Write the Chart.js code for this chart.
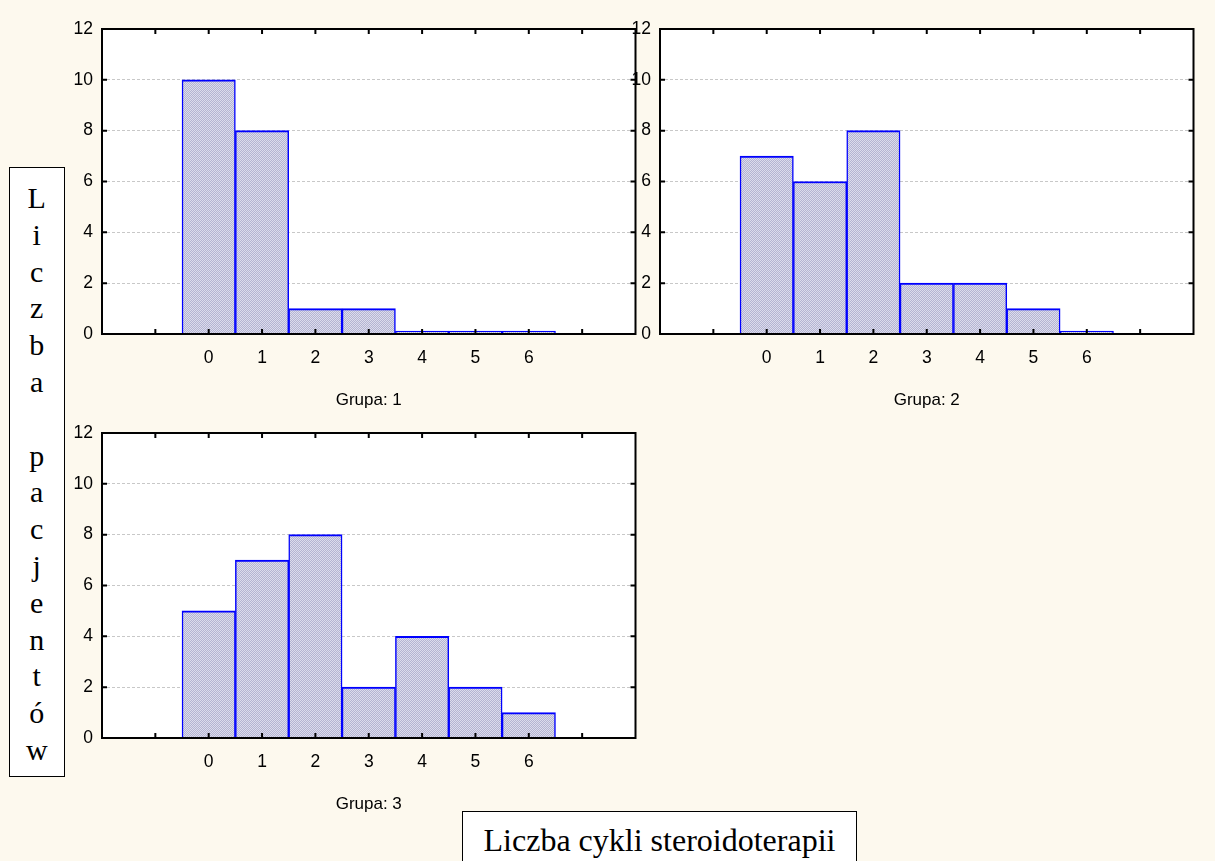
<!DOCTYPE html>
<html>
<head>
<meta charset="utf-8">
<script src="https://cdn.jsdelivr.net/npm/chart.js@4.4.1/dist/chart.umd.min.js"></script>
<style>
html,body{margin:0;padding:0;background:#fdf9ee;width:1215px;height:861px;overflow:hidden;}
canvas.c{position:absolute;}
#ylab{position:absolute;left:9px;top:167px;width:55.5px;height:610px;box-sizing:border-box;border:1.5px solid #000;background:#fff;
  font-family:"Liberation Serif","Times New Roman",serif;font-size:30px;line-height:36.8px;text-align:center;padding-top:12px;color:#000;z-index:5;}
#xlab{position:absolute;left:461.7px;top:810.7px;width:395.6px;height:70px;box-sizing:border-box;border:1.5px solid #000;border-bottom:none;background:#fff;
  font-family:"Liberation Serif","Times New Roman",serif;font-size:32px;line-height:40px;text-align:center;padding-top:8px;color:#000;z-index:5;white-space:nowrap;}
</style>
</head>
<body>
<canvas id="c1" class="c" width="595" height="405" style="left:50px;top:15px;"></canvas>
<canvas id="c2" class="c" width="595" height="405" style="left:608px;top:15px;"></canvas>
<canvas id="c3" class="c" width="595" height="405" style="left:50px;top:419px;"></canvas>
<div id="ylab"></div>
<div id="xlab"></div>
<script>
// ---- data ----
const xCategories = [0, 1, 2, 3, 4, 5, 6];
const group1 = [10, 8, 1, 1, 0, 0, 0];
const group2 = [7, 6, 8, 2, 2, 1, 0];
const group3 = [5, 7, 8, 2, 4, 2, 1];
const groupTitles = ['Grupa: 1', 'Grupa: 2', 'Grupa: 3'];
const yTickValues = [0, 2, 4, 6, 8, 10, 12];
const xMin = -2, xMax = 8;
const yAxisLabel = 'Liczba pacjentów';
const xAxisLabel = 'Liczba cykli steroidoterapii';

document.getElementById('ylab').innerHTML = Array.from(yAxisLabel).map(ch => ch === ' ' ? '&nbsp;' : ch).join('<br>');
document.getElementById('xlab').textContent = xAxisLabel;

function makePattern() {
  const c = document.createElement('canvas');
  c.width = 2; c.height = 2;
  const g = c.getContext('2d');
  g.fillStyle = '#dcdcec'; g.fillRect(0, 0, 2, 2);
  g.fillStyle = '#b4b4d2'; g.fillRect(0, 0, 1, 1); g.fillRect(1, 1, 1, 1);
  return g.createPattern(c, 'repeat');
}
const pattern = makePattern();

const framePlugin = {
  id: 'frame',
  beforeDraw(chart) {
    const {ctx, chartArea: a} = chart;
    ctx.save();
    ctx.fillStyle = '#ffffff';
    ctx.fillRect(a.left, a.top, a.right - a.left, a.bottom - a.top);
    ctx.restore();
  },
  afterDatasetsDraw(chart) {
    const {ctx, chartArea: a, scales: {x, y}} = chart;
    ctx.save();
    ctx.strokeStyle = '#000';
    ctx.lineWidth = 2;
    ctx.beginPath();
    x.ticks.forEach(t => {
      if (t.value <= x.min || t.value >= x.max) return;
      const px = x.getPixelForValue(t.value);
      ctx.moveTo(px, a.top); ctx.lineTo(px, a.top + 5);
      ctx.moveTo(px, a.bottom); ctx.lineTo(px, a.bottom - 5);
    });
    y.ticks.forEach(t => {
      if (t.value <= y.min || t.value >= y.max) return;
      const py = y.getPixelForValue(t.value);
      ctx.moveTo(a.left, py); ctx.lineTo(a.left + 5, py);
      ctx.moveTo(a.right, py); ctx.lineTo(a.right - 5, py);
    });
    ctx.stroke();
    ctx.strokeRect(a.left, a.top, a.right - a.left, a.bottom - a.top);
    ctx.restore();
  }
};

function makeChart(id, values, title) {
  return new Chart(document.getElementById(id), {
    type: 'bar',
    data: {
      datasets: [{
        data: xCategories.map((c, i) => ({x: c, y: values[i]})),
        backgroundColor: pattern,
        borderColor: '#0000ff',
        borderWidth: {top: 2, left: 1.5, right: 1.5, bottom: 0},
        borderSkipped: 'start',
        barPercentage: 1,
        categoryPercentage: 1,
        minBarLength: 3
      }]
    },
    options: {
      responsive: false,
      animation: false,
      devicePixelRatio: 1,
      layout: {padding: {top: 14, right: 9.5, left: 0, bottom: 0}},
      plugins: {legend: {display: false}, tooltip: {enabled: false}},
      scales: {
        x: {
          type: 'linear', min: xMin, max: xMax, offset: false,
          grid: {display: false, drawTicks: false, offset: false},
          border: {display: false},
          ticks: {
            stepSize: 1, autoSkip: false, maxRotation: 0, padding: 14,
            color: '#000', font: {family: '"Liberation Sans", Arial, sans-serif', size: 17.5},
            callback: v => xCategories.includes(v) ? String(v) : ''
          },
          title: {display: true, text: title, color: '#000',
            font: {family: '"Liberation Sans", Arial, sans-serif', size: 17},
            padding: {top: 0, bottom: 9.5}},
          afterFit: s => { s.height = 86; s.paddingLeft = 0; s.paddingRight = 0; }
        },
        y: {
          min: 0, max: 12,
          grid: {drawTicks: false, lineWidth: 1,
            color: c => (c.tick && (c.tick.value === 0 || c.tick.value === 12)) ? 'rgba(0,0,0,0)' : '#c8c8c8'},
          border: {display: false, dash: [3, 2]},
          afterBuildTicks: s => { s.ticks = yTickValues.map(v => ({value: v})); },
          ticks: {padding: 9, color: '#000', font: {family: '"Liberation Sans", Arial, sans-serif', size: 17.5}},
          afterFit: s => { s.width = 52; s.paddingTop = 0; s.paddingBottom = 0; }
        }
      }
    },
    plugins: [framePlugin]
  });
}

makeChart('c1', group1, groupTitles[0]);
makeChart('c2', group2, groupTitles[1]);
makeChart('c3', group3, groupTitles[2]);
</script>
</body>
</html>
